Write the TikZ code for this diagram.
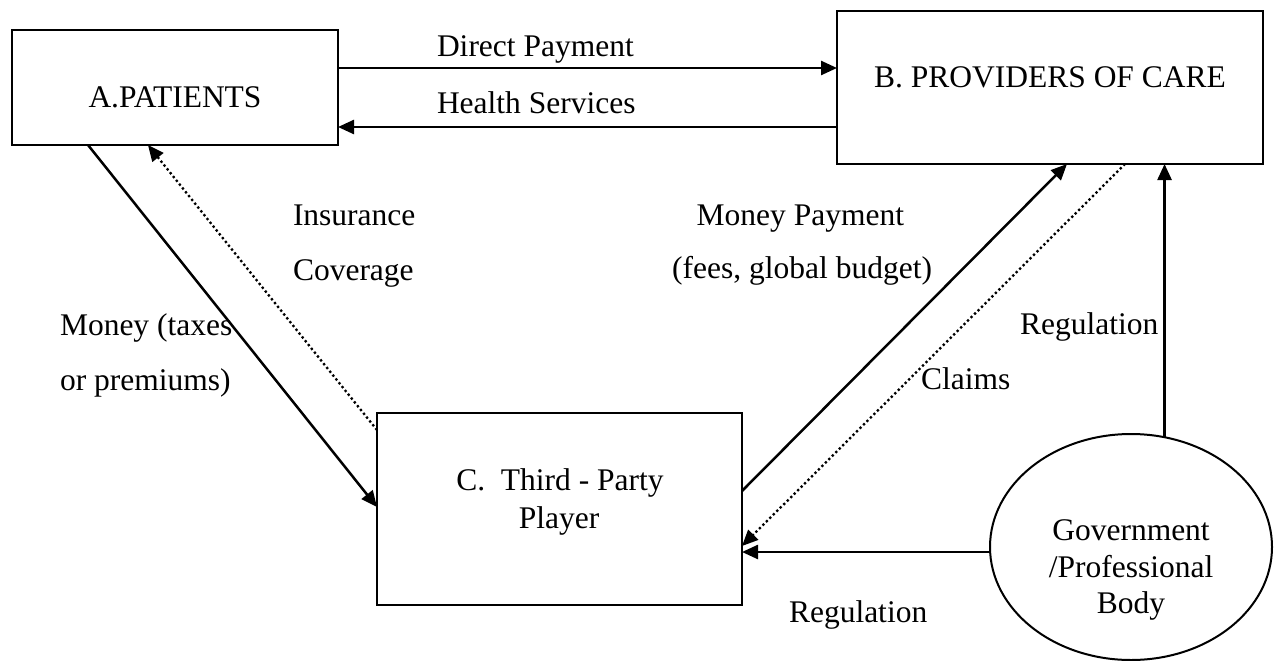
\documentclass[tikz,border=0pt]{standalone}
\usepackage{fontspec}
\setmainfont{Liberation Serif}
\usetikzlibrary{arrows.meta,calc,shapes.geometric}

\begin{document}
\begin{tikzpicture}[x=1pt,y=-1pt,
  every node/.style={inner sep=0pt, outer sep=0pt},
  txt/.style={font=\fontsize{31.5}{38}\selectfont},
  party/.style={draw, line width=2pt, rectangle},
  body/.style={draw, line width=2pt, ellipse},
  flow/.style={line width=2.5pt, -{Triangle[length=16pt,width=14pt]}},
  weak/.style={line width=2.3pt, dash pattern=on 2.3pt off 2.6pt,
               -{Triangle[length=16pt,width=14pt]}}]

  \useasboundingbox (0,0) rectangle (1274,661);

  % actors
  \node[party, minimum width=326pt, minimum height=115pt] (A) at (175,87.5) {};
  \node[party, minimum width=426pt, minimum height=153pt] (B) at (1050,87.5) {};
  \node[party, minimum width=365pt, minimum height=192pt] (C) at (559.5,509) {};
  \node[body, minimum width=282pt, minimum height=226pt] (G) at (1131,547) {};

  % actor titles
  \node[txt, anchor=base] (At) at (175,107) {A.PATIENTS};
  \node[txt, anchor=base] (Bt) at (1050,88) {B. PROVIDERS OF CARE};
  \node[txt, anchor=base] (Ct1) at (560,490) {C.\ \ Third - Party};
  \node[txt, anchor=base] (Ct2) at (559,528) {Player};
  \node[txt, anchor=base] (Gt1) at (1131,540) {Government};
  \node[txt, anchor=base] (Gt2) at (1131,577) {/Professional};
  \node[txt, anchor=base] (Gt3) at (1131,613) {Body};

  % flows between patients and providers
  \draw[flow] ([yshift=19.5pt]A.east) -- ([yshift=19.5pt]B.west);
  \draw[flow] ([yshift=-39.5pt]B.west) -- ([yshift=-39.5pt]A.east);

  % patients and third party
  \draw[flow] ($(A.south)+(-87,0)$) -- ($(C.west)+(0,-2)$);
  \draw[weak] ($(C.north west)+(0,17)$) -- ($(A.south)+(-27,0)$);

  % third party and providers
  \draw[flow] ($(C.east)+(0,-18)$) -- ($(B.south)+(17,0)$);
  \draw[weak] ($(B.south)+(75,0)$) -- ($(C.east)+(0,37)$);

  % regulation
  \coordinate (Gw) at ($(G.west)+(0,5)$);
  \draw[flow] (Gw) -- (C.east |- Gw);
  \draw[flow] (G.73.3) -- (B.south -| G.73.3);

  % flow labels
  \node[txt, anchor=base west] (l1) at (437,57) {Direct Payment};
  \node[txt, anchor=base west] (l2) at (437,113) {Health Services};
  \node[txt, anchor=base west] (l3) at (293,225) {Insurance};
  \node[txt, anchor=base west] (l4) at (293,280) {Coverage};
  \node[txt, anchor=base west] (l5) at (60,335) {Money (taxes};
  \node[txt, anchor=base west] (l6) at (60,390) {or premiums)};
  \node[txt, anchor=base east] (l7) at (904,225) {Money Payment};
  \node[txt, anchor=base east] (l8) at (932,278) {(fees, global budget)};
  \node[txt, anchor=base west] (l9) at (921,389) {Claims};
  \node[txt, anchor=base west] (l10) at (1020,334) {Regulation};
  \node[txt, anchor=base west] (l11) at (789,622) {Regulation};
\end{tikzpicture}
\end{document}
